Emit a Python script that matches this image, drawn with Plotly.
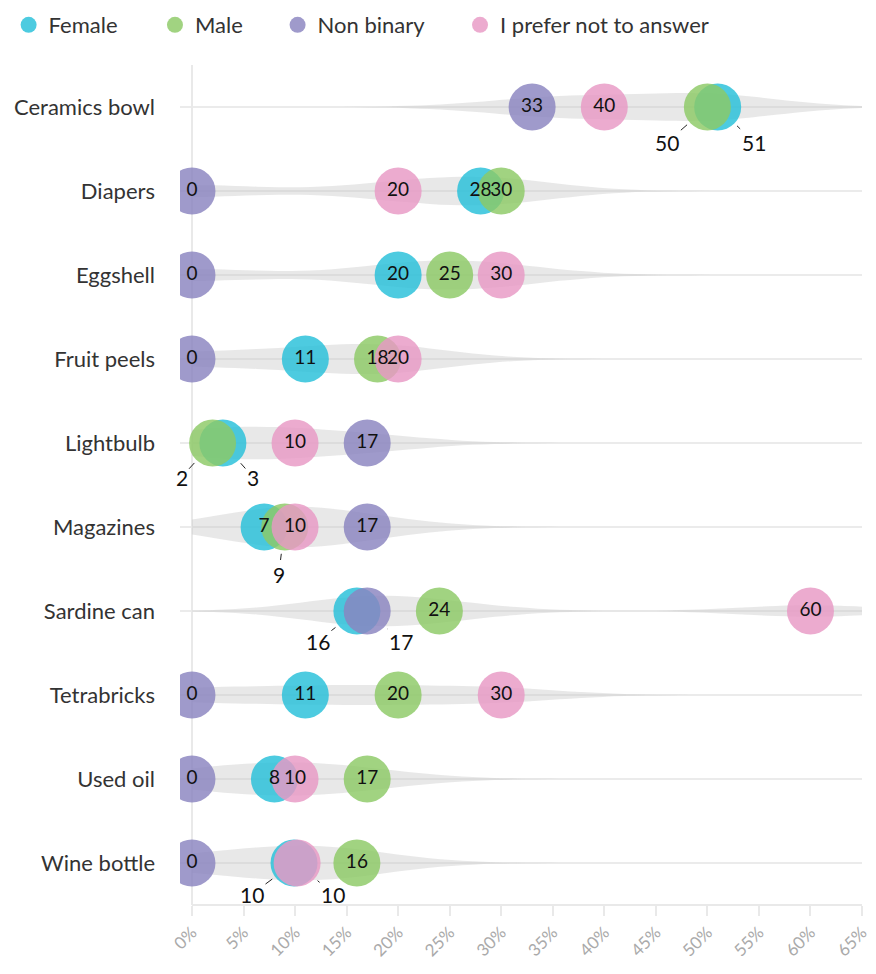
import plotly.graph_objects as go

categories = ["Ceramics bowl", "Diapers", "Eggshell", "Fruit peels", "Lightbulb",
              "Magazines", "Sardine can", "Tetrabricks", "Used oil", "Wine bottle"]
female = [51, 28, 20, 11, 3, 7, 16, 11, 8, 9.9]
male = [50, 30, 25, 18, 2, 9, 24, 20, 17, 16]
non_binary = [33, 0, 0, 0, 17, 17, 17, 0, 0, 0]
prefer_not = [40, 20, 30, 20, 10, 10, 60, 30, 10, 10.2]
tick_values = [0, 5, 10, 15, 20, 25, 30, 35, 40, 45, 50, 55, 60, 65]

series = [
    ("Female", female, "#26c0d9"),
    ("Male", male, "#8cc965"),
    ("Non binary", non_binary, "#8a84c0"),
    ("I prefer not to answer", prefer_not, "#e898c4"),
]

# legend placement (paper x of each legend box)
legend_x = [-0.2513, -0.0367, 0.1431, 0.4106]

# label callouts for overlapping circles: (series, category) -> pixel offset of label
callouts = {
    ("Male", "Ceramics bowl"): (-40, 35),
    ("Female", "Ceramics bowl"): (36, 35),
    ("Male", "Lightbulb"): (-31, 34),
    ("Female", "Lightbulb"): (30, 34),
    ("Male", "Magazines"): (-6, 47),
    ("Female", "Sardine can"): (-39, 30),
    ("Non binary", "Sardine can"): (34, 30),
    ("Female", "Wine bottle"): (-42, 31),
    ("I prefer not to answer", "Wine bottle"): (36, 31),
}

FONT = "Lato"
NUM_SIZE = 19
fig = go.Figure()

# violin of each row's values
vx, vy = [], []
for i, c in enumerate(categories):
    for _, vals, _ in series:
        vx.append(vals[i])
        vy.append(c)
fig.add_trace(go.Violin(
    x=vx, y=vy, orientation="h", points=False, box_visible=False, meanline_visible=False,
    bandwidth=6.5, spanmode="manual", span=[0, 65], scalemode="width", width=0.48,
    fillcolor="rgba(200,200,200,0.42)", line=dict(width=0), showlegend=False,
    hoverinfo="skip", side="both",
))

annotations = []
legends = {}
for k, (name, vals, color) in enumerate(series):
    lname = "legend" if k == 0 else f"legend{k + 1}"
    legends[lname] = dict(orientation="h", x=legend_x[k], xanchor="left", y=1.0476,
                          yanchor="middle", font=dict(family=FONT, size=22, color="#333"),
                          bgcolor="rgba(0,0,0,0)")
    fig.add_trace(go.Scatter(
        x=vals, y=categories, mode="markers", name=name, legend=lname,
        marker=dict(size=47, color=color, opacity=0.82, line=dict(width=0)),
        hoverinfo="skip",
    ))

for name, vals, color in series:
    texts = []
    for i, c in enumerate(categories):
        if (name, c) in callouts:
            texts.append("")
            ax, ay = callouts[(name, c)]
            annotations.append(dict(
                x=vals[i], y=c, xref="x", yref="y", text=str(round(vals[i])),
                showarrow=True, arrowhead=0, arrowwidth=1, arrowcolor="#222",
                ax=ax, ay=ay, standoff=27,
                font=dict(family=FONT, size=21, color="#111"),
            ))
        else:
            texts.append(str(round(vals[i])))
    fig.add_trace(go.Scatter(
        x=vals, y=categories, mode="text", text=texts, textposition="middle center",
        textfont=dict(family=FONT, size=NUM_SIZE, color="#111"), showlegend=False,
        hoverinfo="skip",
    ))

fig.add_shape(type="line", xref="x", yref="paper", x0=0, x1=65, y0=0, y1=0,
              line=dict(color="#e9e9e9", width=2), layer="below")

fig.update_layout(
    width=876, height=974,
    margin=dict(l=172, r=22, t=57, b=77, autoexpand=False),
    paper_bgcolor="white", plot_bgcolor="white",
    font=dict(family=FONT, size=22, color="#333"),
    showlegend=True,
    annotations=annotations,
    violinmode="overlay",
    **legends,
)
fig.update_xaxes(
    range=[-1.16, 65], tickvals=tick_values, ticktext=[f"{v}%" for v in tick_values],
    tickangle=-45, tickfont=dict(family=FONT, size=17, color="#aaaaaa"),
    ticks="outside", ticklen=10, tickwidth=2, tickcolor="#e9e9e9",
    showgrid=False, zeroline=True, zerolinecolor="#e9e9e9", zerolinewidth=2,
    showline=False, automargin=False,
)
fig.update_yaxes(
    categoryorder="array", categoryarray=categories, range=[9.5, -0.5],
    showgrid=True, gridcolor="#ebebeb", gridwidth=2, zeroline=False, showline=False,
    tickfont=dict(family=FONT, size=22, color="#333"), ticks="", ticklabelstandoff=24,
    automargin=False,
)

fig.write_html("out.html")
